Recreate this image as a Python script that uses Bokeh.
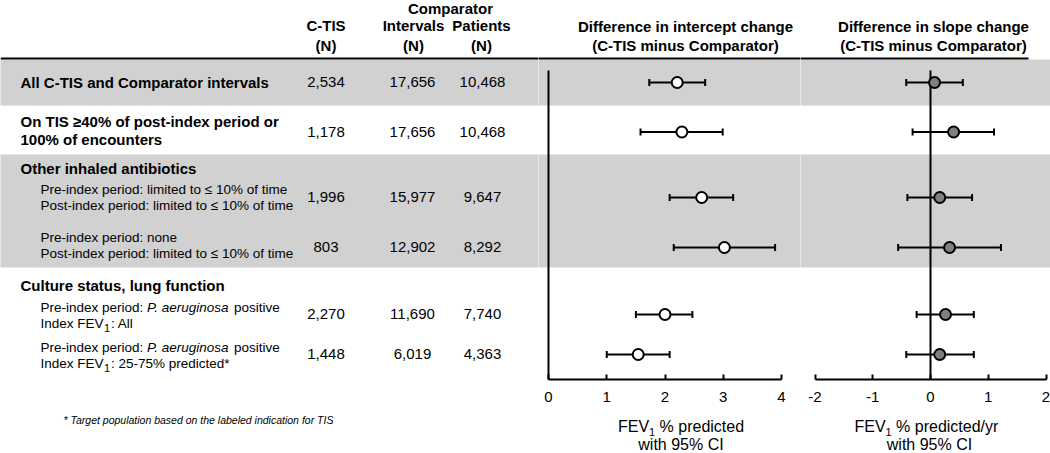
from bokeh.plotting import figure
from bokeh.layouts import row, column
from bokeh.models import Range1d, FixedTicker, Span
from bokeh.core.properties import value
from bokeh.embed import file_html
from bokeh.resources import INLINE

# ---------------- data ----------------
ctis_n = ["2,534", "1,178", "1,996", "803", "2,270", "1,448"]
comp_intervals_n = ["17,656", "17,656", "15,977", "12,902", "11,690", "6,019"]
comp_patients_n = ["10,468", "10,468", "9,647", "8,292", "7,740", "4,363"]

icpt_est = [2.21, 2.29, 2.63, 3.02, 2.00, 1.54]
icpt_lo = [1.73, 1.58, 2.08, 2.15, 1.50, 1.00]
icpt_hi = [2.69, 2.99, 3.17, 3.89, 2.47, 2.08]

slope_est = [0.07, 0.40, 0.16, 0.33, 0.26, 0.16]
slope_lo = [-0.42, -0.31, -0.40, -0.56, -0.24, -0.42]
slope_hi = [0.56, 1.10, 0.72, 1.22, 0.75, 0.75]

icpt_ticks = [0, 1, 2, 3, 4]
slope_ticks = [-2, -1, 0, 1, 2]

bold_labels = ["All C-TIS and Comparator intervals",
               "On TIS \u226540% of post-index period or",
               "100% of encounters",
               "Other inhaled antibiotics",
               "Culture status, lung function"]
sub_labels = ["Pre-index period: limited to \u2264 10% of time",
              "Post-index period: limited to \u2264 10% of time",
              "Pre-index period: none",
              "Post-index period: limited to \u2264 10% of time"]
culture_pre = ["Pre-index period: ", "P. aeruginosa", "positive"]
culture_fev = ["Index FEV", "1", ": All", ": 25-75% predicted*"]
col_headers = ["C-TIS", "(N)", "Comparator", "Intervals", "(N)", "Patients", "(N)"]
panel_headers = [["Difference in intercept change", "(C-TIS minus Comparator)"],
                 ["Difference in slope change", "(C-TIS minus Comparator)"]]
axis_titles = [["FEV", "1", "% predicted", "with 95% CI"],
               ["FEV", "1", "% predicted/yr", "with 95% CI"]]
footnote = "* Target population based on the labeled indication for TIS"

# ---------------- layout (page pixel coordinates) ----------------
FONT = "Liberation Sans"
F = value(FONT)
BAND = "#d1d1d1"
W_TOTAL, H_TOP = 1050, 410
CAP_TOP, CAP_BOT = 410, 453
WA, WB, WC = 538, 262, 250
XA0, XB0, XC0 = 0, 538, 800
AXIS_Y = 379
row_y = [82, 131.5, 197, 247, 314, 354]
band_top = [59, 154]
band_bot = [105, 267]
HEAD_Y = 58

zeroB, uB = 548.0, 58.25
zeroC, uC = 930.0, 57.75


def bl(y, fs):
    """baseline position -> anchor used by the renderer (empirical shift)"""
    if isinstance(y, (list, tuple)):
        return [v - 0.38 * fs for v in y]
    return y - 0.38 * fs


num_base = bl([y + 5.3 for y in row_y], 15)
txt = dict(text_font=F, text_color="black", text_baseline="alphabetic")


def common(fig):
    fig.grid.visible = False
    fig.outline_line_color = None
    fig.background_fill_color = "white"
    fig.border_fill_color = "white"


# ---------------- table figure ----------------
pa = figure(width=WA, height=H_TOP, x_range=Range1d(XA0, XA0 + WA),
            y_range=Range1d(AXIS_Y, 0), output_backend="svg",
            toolbar_location=None, x_axis_location=None, y_axis_location=None,
            min_border=0, min_border_bottom=H_TOP - AXIS_Y)
common(pa)
pa.quad(left=-5, right=XA0 + WA + 5, top=band_top, bottom=band_bot,
        fill_color=BAND, line_color=None)
pa.add_layout(Span(location=HEAD_Y, dimension="width", line_color="black", line_width=2))

pa.text(x=[325.5, 325.5, 450, 413, 413, 481, 481],
        y=bl([31, 50.5, 13.5, 31, 50.5, 31, 50.5], 15), text=col_headers,
        text_font_size="15px", text_font_style="bold", text_align="center", **txt)
pa.text(x=[20] * 5, y=bl([87.3, 126.7, 144.3, 173.3, 290.7], 15), text=bold_labels,
        text_font_size="15px", text_font_style="bold", text_align="left", **txt)
pa.text(x=[40] * 4, y=bl([194, 210, 242.3, 257.7], 13.5), text=sub_labels,
        text_font_size="13.5px", text_align="left", **txt)
for yb1, yb2, tail in [(312.3, 328.3, culture_fev[2]), (351.7, 368.3, culture_fev[3])]:
    pa.text(x=[40], y=[bl(yb1, 13.5)], text=[culture_pre[0]], text_font_size="13.5px",
            text_align="left", **txt)
    pa.text(x=[146.5], y=[bl(yb1, 13.5)], text=[culture_pre[1]], text_font_size="13.5px",
            text_font_style="italic", text_align="left", **txt)
    pa.text(x=[233.5], y=[bl(yb1, 13.5)], text=[culture_pre[2]], text_font_size="13.5px",
            text_align="left", **txt)
    pa.text(x=[40], y=[bl(yb2, 13.5)], text=[culture_fev[0]], text_font_size="13.5px",
            text_align="left", **txt)
    pa.text(x=[103.5], y=[bl(yb2 + 3.5, 11)], text=[culture_fev[1]], text_font_size="11px",
            text_align="left", **txt)
    pa.text(x=[110.5], y=[bl(yb2, 13.5)], text=[tail], text_font_size="13.5px",
            text_align="left", **txt)
for cx, vals in [(325.5, ctis_n), (412, comp_intervals_n), (482, comp_patients_n)]:
    pa.text(x=[cx] * len(vals), y=num_base, text=vals, text_font_size="15px",
            text_align="center", **txt)


# ---------------- forest panels ----------------
def forest(width, x0, zero, unit, est, lo, hi, ticks, fill, header, hx, x_end_line):
    def d(px):
        return (px - zero) / unit
    p = figure(width=width, height=H_TOP, x_range=Range1d(d(x0), d(x0 + width)),
               y_range=Range1d(AXIS_Y, 0), output_backend="svg", toolbar_location=None,
               y_axis_location=None, min_border=0, min_border_bottom=H_TOP - AXIS_Y)
    common(p)
    p.quad(left=d(x0 - 5), right=d(x0 + width + 5), top=band_top, bottom=band_bot,
           fill_color=BAND, line_color=None)
    p.segment(x0=[d(x0 - 5)], x1=[d(x_end_line)], y0=[HEAD_Y], y1=[HEAD_Y],
              line_color="black", line_width=2)
    p.segment(x0=[0], x1=[0], y0=[70], y1=[AXIS_Y], line_color="black", line_width=2)
    p.segment(x0=lo, x1=hi, y0=row_y, y1=row_y, line_color="black", line_width=2)
    p.segment(x0=lo, x1=lo, y0=[y - 3.5 for y in row_y], y1=[y + 3.5 for y in row_y],
              line_color="black", line_width=2)
    p.segment(x0=hi, x1=hi, y0=[y - 3.5 for y in row_y], y1=[y + 3.5 for y in row_y],
              line_color="black", line_width=2)
    p.scatter(x=est, y=row_y, size=11, marker="circle", fill_color=fill,
              line_color="black", line_width=2)
    p.text(x=[d(hx), d(hx)], y=bl([31.5, 50.5], 15), text=header, text_font=F,
           text_font_size="15px", text_font_style="bold", text_align="center",
           text_baseline="alphabetic", text_color="black")
    ax = p.xaxis[0]
    ax.ticker = FixedTicker(ticks=ticks)
    ax.bounds = (ticks[0], ticks[-1])
    ax.major_label_overrides = {t: str(t) for t in ticks}
    ax.major_tick_in = 5
    ax.major_tick_out = 0
    ax.minor_tick_line_color = None
    ax.axis_line_width = 2
    ax.major_tick_line_width = 2
    ax.axis_line_color = "black"
    ax.major_tick_line_color = "black"
    ax.major_label_text_font = FONT
    ax.major_label_text_font_size = "15px"
    ax.major_label_text_color = "black"
    ax.major_label_standoff = 12
    return p


pb = forest(WB, XB0, zeroB, uB, icpt_est, icpt_lo, icpt_hi, icpt_ticks, "white",
            panel_headers[0], 685, XB0 + WB + 5)
pc = forest(WC, XC0, zeroC, uC, slope_est, slope_lo, slope_hi, slope_ticks, "#7f7f7f",
            panel_headers[1], 933, 1028)

# ---------------- caption strip (axis titles, footnote) ----------------
pcap = figure(width=W_TOTAL, height=CAP_BOT - CAP_TOP, x_range=Range1d(0, W_TOTAL),
              y_range=Range1d(CAP_BOT, CAP_TOP), output_backend="svg",
              toolbar_location=None, x_axis_location=None, y_axis_location=None, min_border=0)
common(pcap)
pcap.text(x=[63], y=[bl(423, 10.5)], text=[footnote], text_font_size="10.5px",
          text_font_style="italic", text_align="left", **txt)
wF = 16 * 1.945
for title, tx, tx2 in [(axis_titles[0], 617.5, 680.5), (axis_titles[1], 854, 929)]:
    pcap.text(x=[tx], y=[bl(432, 16)], text=[title[0]], text_font_size="16px",
              text_align="left", **txt)
    pcap.text(x=[tx + wF], y=[bl(436, 11)], text=[title[1]], text_font_size="11px",
              text_align="left", **txt)
    pcap.text(x=[tx + wF + 10.5], y=[bl(432, 16)], text=[title[2]], text_font_size="16px",
              text_align="left", **txt)
    pcap.text(x=[tx2], y=[bl(450, 16)], text=[title[3]], text_font_size="16px",
              text_align="center", **txt)

layout = column(row(pa, pb, pc), pcap)
open("out.html", "w").write(file_html(layout, INLINE))
